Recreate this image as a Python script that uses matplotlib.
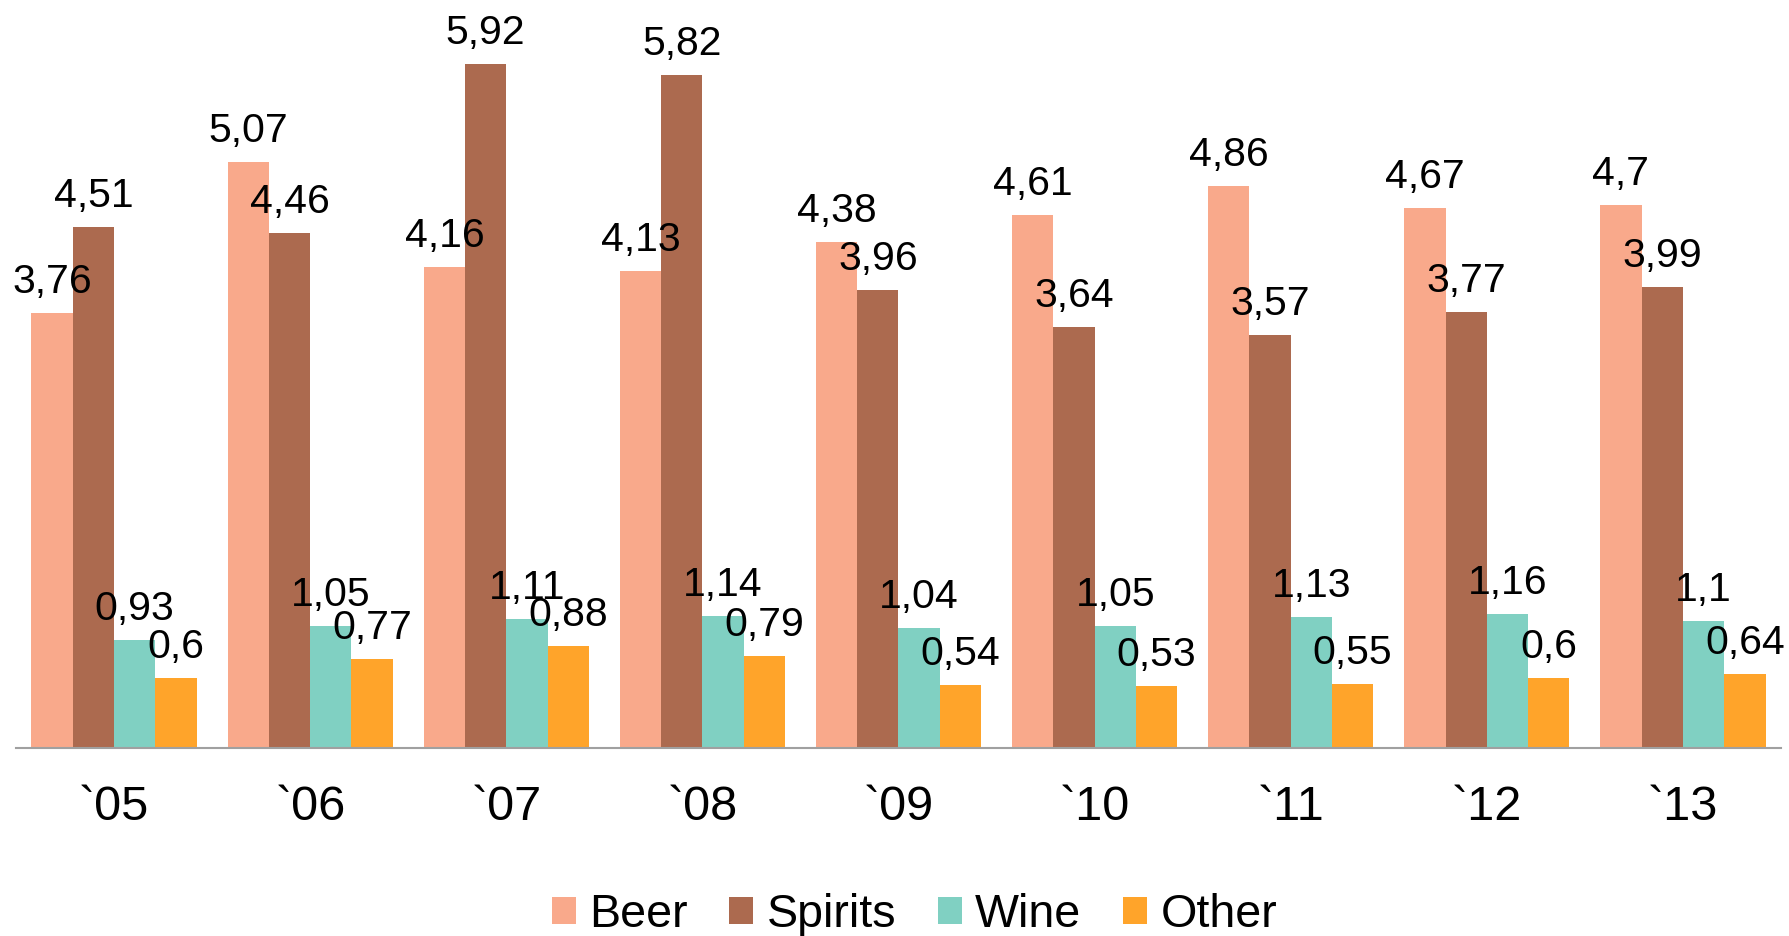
import matplotlib
matplotlib.use("Agg")
import matplotlib.pyplot as plt
import numpy as np

years = ["`05", "`06", "`07", "`08", "`09", "`10", "`11", "`12", "`13"]
series_names = ["Beer", "Spirits", "Wine", "Other"]
beer = [3.76, 5.07, 4.16, 4.13, 4.38, 4.61, 4.86, 4.67, 4.7]
spirits = [4.51, 4.46, 5.92, 5.82, 3.96, 3.64, 3.57, 3.77, 3.99]
wine = [0.93, 1.05, 1.11, 1.14, 1.04, 1.05, 1.13, 1.16, 1.1]
other = [0.6, 0.77, 0.88, 0.79, 0.54, 0.53, 0.55, 0.6, 0.64]
colors = ["#F9A98B", "#AC6A4F", "#80D0C2", "#FFA42A"]

plt.rcParams['font.family'] = ['Liberation Sans', 'DejaVu Sans']

W, H = 1789, 936
fig = plt.figure(figsize=(W / 100, H / 100), dpi=100)
fig.patch.set_facecolor("white")

ax_left, ax_right = 16, 1781
axis_y = 747.7
px_per_unit = 115.5
ymax = 6.4
ax = fig.add_axes([ax_left / W, (H - axis_y) / H, (ax_right - ax_left) / W,
                   ymax * px_per_unit / H])

x = np.arange(len(years))
bw = 0.2106
data = [beer, spirits, wine, other]
for i, (name, vals, c) in enumerate(zip(series_names, data, colors)):
    pos = x + (i - 1.5) * bw
    ax.bar(pos, vals, width=bw, color=c, label=name, linewidth=0, zorder=2)
    for px, v in zip(pos, vals):
        ax.annotate(f"{v:g}".replace(".", ","), (px, v), xytext=(0, 14.4),
                    textcoords="offset points", ha="center", va="baseline",
                    fontsize=29.5, color="black", zorder=5, annotation_clip=False)

ax.set_xlim(-0.5, len(years) - 0.5)
ax.set_ylim(0, ymax)
ax.set_xticks(x)
ax.set_xticklabels(years, fontsize=35)
ax.tick_params(axis="x", length=0, pad=27)
ax.set_yticks([])
for s in ["top", "right", "left"]:
    ax.spines[s].set_visible(False)
ax.spines["bottom"].set_color("#A0A0A0")
ax.spines["bottom"].set_linewidth(1.5)
ax.patch.set_alpha(0)

leg = fig.legend(loc="center", bbox_to_anchor=(914.5 / W, 1 - 915 / H), ncol=4,
                 frameon=False, fontsize=33.6, handlelength=0.515, handleheight=0.54,
                 handletextpad=0.28, columnspacing=0.9, borderpad=0, borderaxespad=0)

fig.savefig("out.png", dpi=100, facecolor="white")
